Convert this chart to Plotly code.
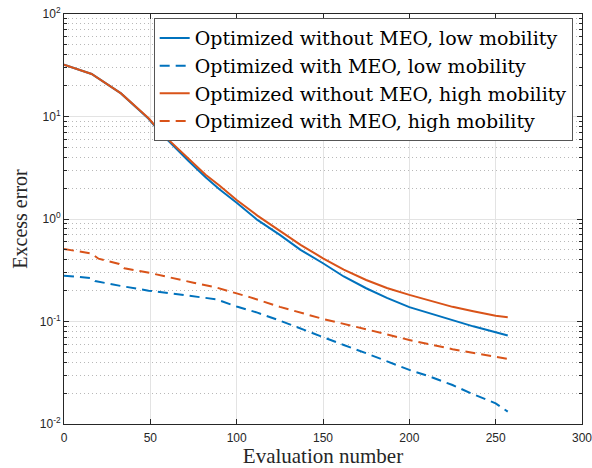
import plotly.graph_objects as go

# ---- data ----
x_solid = [0, 16, 33, 49, 56, 64, 72, 82, 90, 100, 112, 125, 137, 150, 162, 175,
           187, 200, 212, 225, 237, 250, 257]
low_no_meo = [32, 26, 16.8, 9.5, 6.9, 5.0, 3.7, 2.55, 1.95, 1.44, 0.98, 0.70, 0.50,
              0.37, 0.275, 0.211, 0.17, 0.138, 0.12, 0.103, 0.0897, 0.0785, 0.073]
high_no_meo = [32, 26, 16.8, 9.6, 7.0, 5.2, 3.85, 2.7, 2.12, 1.53, 1.08, 0.76, 0.56,
               0.414, 0.32, 0.254, 0.212, 0.182, 0.16, 0.139, 0.126, 0.114, 0.11]

x_low_meo = [0, 16, 18, 22, 33, 49, 75, 88, 100, 112, 125, 137, 150, 162, 175, 187,
             200, 212, 225, 237, 250, 257]
low_meo = [0.28, 0.265, 0.248, 0.24, 0.222, 0.2, 0.177, 0.165, 0.14, 0.122, 0.102,
           0.085, 0.070, 0.059, 0.049, 0.041, 0.0337, 0.029, 0.024, 0.0195, 0.0159, 0.0132]

x_high_meo = [0, 16, 20, 32, 35, 50, 75, 88, 100, 108, 125, 150, 175, 200, 225, 250, 257]
high_meo = [0.51, 0.46, 0.41, 0.364, 0.33, 0.297, 0.239, 0.215, 0.188, 0.172, 0.139,
            0.106, 0.084, 0.066, 0.0537, 0.0448, 0.0432]

names = ["Optimized without MEO, low mobility",
         "Optimized with MEO, low mobility",
         "Optimized without MEO, high mobility",
         "Optimized with MEO, high mobility"]

x_ticks = [0, 50, 100, 150, 200, 250, 300]
y_ticks = [0.01, 0.1, 1, 10, 100]
y_ticktext = ["10<sup>-2</sup>", "10<sup>-1</sup>", "10<sup>0</sup>",
              "10<sup>1</sup>", "10<sup>2</sup>"]
y_minor = [m * 10 ** e for e in (-2, -1, 0, 1) for m in range(2, 10)]

BLUE = "#0072BD"
ORANGE = "#D95319"
AX = "#262626"

fig = go.Figure()
fig.add_trace(go.Scatter(x=x_solid, y=low_no_meo, mode="lines", name=names[0],
                         line=dict(color=BLUE, width=2)))
fig.add_trace(go.Scatter(x=x_low_meo, y=low_meo, mode="lines", name=names[1],
                         line=dict(color=BLUE, width=2, dash="10px,6px")))
fig.add_trace(go.Scatter(x=x_solid, y=high_no_meo, mode="lines", name=names[2],
                         line=dict(color=ORANGE, width=2)))
fig.add_trace(go.Scatter(x=x_high_meo, y=high_meo, mode="lines", name=names[3],
                         line=dict(color=ORANGE, width=2, dash="10px,6px")))

fig.update_layout(
    width=592, height=468,
    margin=dict(l=64, r=10, t=14, b=44),
    paper_bgcolor="white", plot_bgcolor="white",
    showlegend=True,
    legend=dict(x=0.982, y=0.99, xanchor="right", yanchor="top",
                bgcolor="white", bordercolor="#555555", borderwidth=1,
                font=dict(family="DejaVu Serif", size=19, color="black"),
                tracegroupgap=0, itemwidth=30),
    font=dict(family="Liberation Sans", size=12, color=AX),
)

fig.update_xaxes(
    range=[0, 300], tickvals=x_ticks, ticks="inside", ticklen=5, tickcolor=AX,
    showline=True, linecolor=AX, linewidth=1, mirror="allticks",
    showgrid=True, gridcolor="#e3e3e3", gridwidth=1, zeroline=False,
    ticklabelstandoff=3, automargin=False, ticklabeloverflow="allow",
    tickfont=dict(family="Liberation Sans", size=12, color=AX),
    title=dict(text="Evaluation number", standoff=4,
               font=dict(family="Liberation Serif", size=21, color=AX)),
)
fig.update_yaxes(
    type="log", range=[-2, 2], tickvals=y_ticks, ticktext=y_ticktext,
    ticks="inside", ticklen=5, tickcolor=AX, automargin=False,
    ticklabeloverflow="allow",
    showline=True, linecolor=AX, linewidth=1, mirror="allticks",
    showgrid=True, gridcolor="#e3e3e3", gridwidth=1, zeroline=False,
    minor=dict(tickvals=y_minor, ticks="inside", ticklen=3, tickcolor=AX,
               showgrid=True, gridcolor="#b8b8b8", griddash="1px,3px", gridwidth=1),
    tickfont=dict(family="Liberation Sans", size=12, color=AX),
    title=dict(text="Excess error", standoff=6,
               font=dict(family="Liberation Serif", size=20, color=AX)),
)

fig.write_html("out.html")
